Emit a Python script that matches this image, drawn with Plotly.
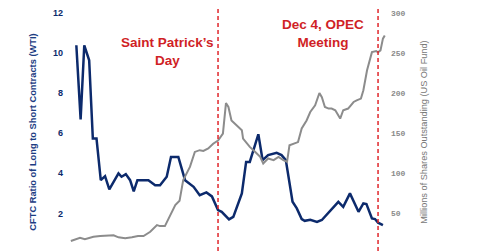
import plotly.graph_objects as go

# CFTC ratio of long to short contracts (WTI) - left axis
cftc_dates = [
    "2014-07-28", "2014-08-04", "2014-08-10", "2014-08-18", "2014-08-24", "2014-08-30",
    "2014-09-06", "2014-09-13", "2014-09-20", "2014-09-27", "2014-10-05", "2014-10-10",
    "2014-10-17", "2014-10-24", "2014-10-30", "2014-11-05", "2014-11-23", "2014-12-04",
    "2014-12-12", "2014-12-23", "2014-12-30", "2015-01-11", "2015-01-22", "2015-02-05",
    "2015-02-15", "2015-02-26", "2015-03-07", "2015-03-17", "2015-03-23", "2015-04-04",
    "2015-04-11", "2015-04-25", "2015-05-02", "2015-05-08", "2015-05-22", "2015-05-29",
    "2015-06-07", "2015-06-21", "2015-06-29", "2015-07-06", "2015-07-17", "2015-07-24",
    "2015-08-01", "2015-08-06", "2015-08-15", "2015-08-26", "2015-09-03", "2015-09-30",
    "2015-10-08", "2015-10-19", "2015-11-02", "2015-11-10", "2015-11-15", "2015-11-24",
    "2015-11-29", "2015-12-04", "2015-12-12",
]
cftc_ratio = [
    10.39, 6.69, 10.39, 9.64, 5.74, 5.74,
    3.66, 3.86, 3.2, 3.58, 4.0, 3.83,
    3.96, 3.66, 3.1, 3.66, 3.66, 3.41,
    3.41, 3.83, 4.82, 4.82, 3.66, 3.33,
    2.91, 3.05, 2.85, 2.17, 2.08, 1.70,
    1.83, 3.0, 4.57, 4.57, 5.95, 4.66,
    4.91, 5.02, 4.91, 4.66, 2.58, 2.25,
    1.72, 1.63, 1.68, 1.58, 1.67, 2.58,
    2.33, 3.0, 2.08, 2.5, 2.47, 1.75,
    1.72, 1.54, 1.42,
]

# Millions of shares outstanding (US Oil Fund) - right axis
uso_dates = [
    "2014-07-19", "2014-08-03", "2014-08-11", "2014-08-25", "2014-09-05", "2014-09-16",
    "2014-09-27", "2014-10-05", "2014-10-16", "2014-10-27", "2014-11-06", "2014-11-15",
    "2014-11-26", "2014-12-07", "2014-12-12", "2014-12-20", "2014-12-28", "2015-01-06",
    "2015-01-13", "2015-01-19", "2015-01-30", "2015-02-07", "2015-02-15", "2015-02-21",
    "2015-03-01", "2015-03-09", "2015-03-17", "2015-03-25", "2015-03-30", "2015-04-03",
    "2015-04-08", "2015-04-14", "2015-04-19", "2015-04-25", "2015-04-27", "2015-05-08",
    "2015-05-17", "2015-05-25", "2015-05-30", "2015-06-07", "2015-06-16", "2015-06-24",
    "2015-07-02", "2015-07-08", "2015-07-12", "2015-07-21", "2015-07-26", "2015-08-01",
    "2015-08-09", "2015-08-15", "2015-08-23", "2015-08-30", "2015-09-03", "2015-09-08",
    "2015-09-14", "2015-09-19", "2015-09-25", "2015-10-03", "2015-10-08", "2015-10-16",
    "2015-10-25", "2015-10-30", "2015-11-06", "2015-11-10", "2015-11-16", "2015-11-24",
    "2015-12-01", "2015-12-04", "2015-12-08", "2015-12-12", "2015-12-15",
]
uso_shares = [
    15.6, 19.7, 17.7, 20.9, 21.8, 21.8,
    22.7, 20.2, 18.9, 20.2, 21.8, 21.8,
    27.1, 35.5, 34.2, 34.2, 45.8, 60.4,
    65.7, 91.5, 108, 126.7, 128.9, 128,
    131, 137, 141, 149.6, 187.7, 182.8,
    166, 162, 157.9, 153.8, 143.4, 133,
    126.7, 120.5, 112.3, 118.5, 116.4, 120.5,
    116.4, 114.3, 135, 137, 139, 155.9,
    166, 176.5, 184.9, 200.2, 195, 182.8,
    180.8, 180.8, 178.7, 168.3, 178.7, 180.8,
    189, 191, 193.2, 203.6, 228.5, 251.2,
    252.5, 251, 253.4, 268, 272,
]

event_dates = ["2015-03-17", "2015-12-04"]
event_labels = ["Saint Patrick\u2019s<br>Day", "Dec 4, OPEC<br>Meeting"]

left_ticks = [0, 2, 4, 6, 8, 10, 12]
right_ticks = [0, 50, 100, 150, 200, 250, 300]

NAVY = "#0c2a6c"
GRAY = "#8c8c8c"
RED = "#d01f26"

fig = go.Figure()
fig.add_trace(go.Scatter(x=uso_dates, y=uso_shares, yaxis="y2", mode="lines",
                         line=dict(color=GRAY, width=2), name="USO shares"))
fig.add_trace(go.Scatter(x=cftc_dates, y=cftc_ratio, mode="lines",
                         line=dict(color=NAVY, width=2.5), name="CFTC ratio"))

for d in event_dates:
    fig.add_shape(type="line", xref="x", yref="paper", x0=d, x1=d, y0=0, y1=1.021,
                  line=dict(color="#e0262c", width=1.5, dash="4px,3px"))

ann_pos = [(0.316, 0.840), (0.796, 0.914)]
for (ax, ay), txt in zip(ann_pos, event_labels):
    fig.add_annotation(xref="paper", yref="paper", x=ax, y=ay, text=txt, showarrow=False,
                       font=dict(family="Liberation Sans, Arial", size=13.5, color=RED,
                                 weight="bold"),
                       align="center", xanchor="center", yanchor="middle")

fig.update_layout(
    width=480, height=251,
    margin=dict(l=64, r=90, t=13, b=0),
    paper_bgcolor="white", plot_bgcolor="white",
    showlegend=False,
    font=dict(family="Liberation Sans, Arial"),
    xaxis=dict(range=["2014-07-07 19:00", "2015-12-23 14:00"], showticklabels=False,
               showgrid=False, zeroline=False, showline=False, ticks=""),
    yaxis=dict(range=[0.125, 12], tickvals=left_ticks, showgrid=False, zeroline=False,
               showline=False, ticks="",
               tickfont=dict(family="Liberation Sans, Arial", size=9, color=NAVY, weight="bold"),
               title=dict(text="CFTC Ratio of Long to Short Contracts (WTI)", standoff=14,
                          font=dict(family="Liberation Sans Narrow, Liberation Sans, Arial",
                                    size=9.3, color="#1c3c82", weight="bold"))),
    yaxis2=dict(range=[3.12, 300], tickvals=right_ticks, overlaying="y", side="right",
                showgrid=False, zeroline=False, showline=False, ticks="",
                tickfont=dict(family="Liberation Mono, Courier New", size=8, color="#8a8a8a", weight="bold"),
                title=dict(text="Millions of Shares Outstanding (US Oil Fund)", standoff=15,
                           font=dict(family="Liberation Sans Narrow, Liberation Sans, Arial",
                                     size=9.2, color="#777777"))),
)

fig.write_html("out.html")
